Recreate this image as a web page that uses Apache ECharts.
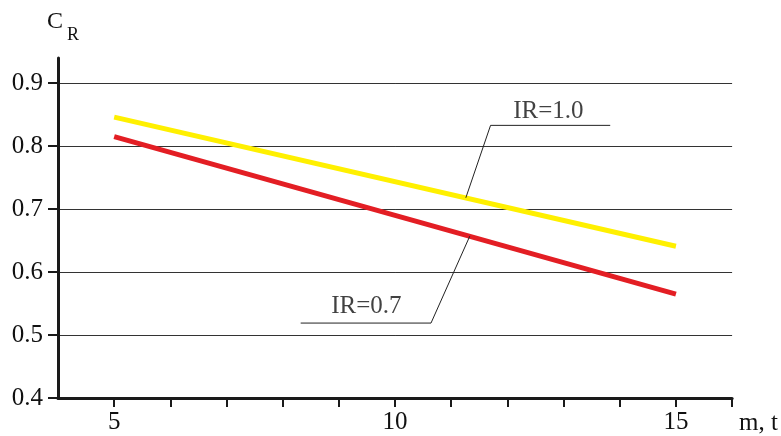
<!DOCTYPE html>
<html>
<head>
<meta charset="utf-8">
<script src="https://cdn.jsdelivr.net/npm/echarts@6/dist/echarts.min.js"></script>
<style>
html,body{margin:0;padding:0;background:#fff;overflow:hidden;width:781px;height:436px;}
#chart{width:781px;height:436px;overflow:hidden;}
</style>
</head>
<body>
<div id="chart"></div>
<script>
// ---- data ----
const xEnds = [5, 15];
const seriesIR10 = [0.846, 0.641];
const seriesIR07 = [0.815, 0.565];
const yTickValues = [0.4, 0.5, 0.6, 0.7, 0.8, 0.9];
const xTickValues = [5, 6, 7, 8, 9, 10, 11, 12, 13, 14, 15, 16];
const xLabelValues = [5, 10, 15];
const xRange = [4, 16];
const yRange = [0.4, 0.94];
// leader lines for annotations (data coordinates)
const leaderIR10 = [[13.83, 0.833], [11.70, 0.833], [11.26, 0.718]];
const leaderIR07 = [[8.32, 0.519], [10.64, 0.519], [11.33, 0.657]];
const labelIR10 = { text: 'IR=1.0', at: [12.73, 0.855] };
const labelIR07 = { text: 'IR=0.7', at: [9.49, 0.546] };

const FONT = 'Liberation Serif';
const TXT = '#111';
const chart = echarts.init(document.getElementById('chart'));

const pair = (xs, ys) => xs.map((x, i) => [x, ys[i]]);

chart.setOption({
  animation: false,
  backgroundColor: '#fff',
  grid: { left: 58, right: 45, top: 58, bottom: 33, containLabel: false },
  xAxis: {
    type: 'value',
    min: xRange[0], max: xRange[1],
    name: 'm, t',
    nameLocation: 'end',
    nameGap: 7,
    nameTextStyle: { fontFamily: FONT, fontSize: 25, color: TXT, verticalAlign: 'top', align: 'left', padding: [13, 0, 0, 0] },
    axisLine: { show: true, lineStyle: { color: '#1a1a1a', width: 3 } },
    axisTick: { show: true, customValues: xTickValues, length: 9, lineStyle: { color: '#1a1a1a', width: 2 } },
    axisLabel: { customValues: xLabelValues, fontFamily: FONT, fontSize: 25, color: TXT, margin: 12 },
    splitLine: { show: false }
  },
  yAxis: {
    type: 'value',
    min: yRange[0], max: yRange[1],
    axisLine: { show: true, lineStyle: { color: '#1a1a1a', width: 3 } },
    axisTick: { show: true, customValues: yTickValues, length: 10, lineStyle: { color: '#1a1a1a', width: 2 } },
    axisLabel: { customValues: yTickValues, fontFamily: FONT, fontSize: 25, color: TXT, margin: 15,
      formatter: v => v.toFixed(1) },
    splitLine: { show: true, lineStyle: { color: '#333', width: 1 } }
  },
  graphic: [
    { type: 'text', left: 47, top: 10, style: { text: 'C', font: '24px "Liberation Serif"', fill: TXT } },
    { type: 'text', left: 67, top: 26, style: { text: 'R', font: '18px "Liberation Serif"', fill: TXT } }
  ],
  series: [
    {
      name: 'IR=1.0', type: 'line', data: pair(xEnds, seriesIR10),
      showSymbol: false, lineStyle: { color: '#fff000', width: 5 }, z: 3
    },
    {
      name: 'IR=0.7', type: 'line', data: pair(xEnds, seriesIR07),
      showSymbol: false, lineStyle: { color: '#e31e24', width: 5 }, z: 3
    },
    {
      type: 'line', data: leaderIR10, showSymbol: false, silent: true,
      lineStyle: { color: '#222', width: 1 }, z: 4
    },
    {
      type: 'line', data: leaderIR07, showSymbol: false, silent: true,
      lineStyle: { color: '#222', width: 1 }, z: 4
    },
    {
      type: 'scatter', symbolSize: 0, silent: true, z: 5,
      data: [labelIR10.at, labelIR07.at],
      label: {
        show: true, position: 'inside', fontFamily: FONT, fontSize: 25, color: TXT,
        formatter: p => p.dataIndex === 0 ? labelIR10.text : labelIR07.text
      }
    }
  ]
});
</script>
</body>
</html>
